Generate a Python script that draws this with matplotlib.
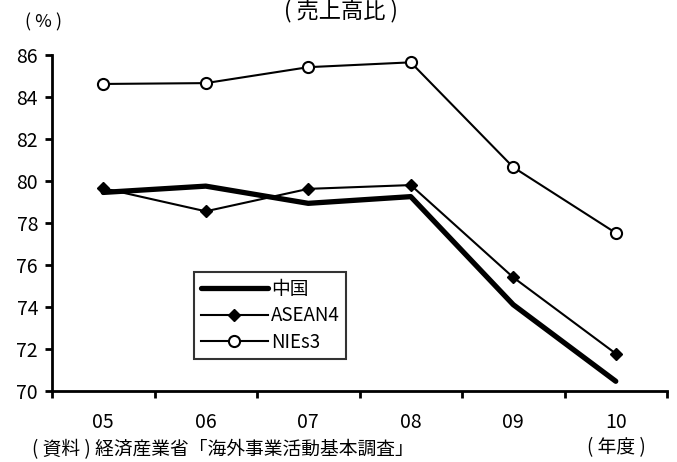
import matplotlib
matplotlib.use("Agg")
import matplotlib.pyplot as plt
from matplotlib.ticker import FixedLocator

plt.rcParams['font.family'] = ['Liberation Sans Narrow', 'Noto Sans CJK JP', 'DejaVu Sans']

# fiscal years and sales ratios (%)
years = ["05", "06", "07", "08", "09", "10"]
china = [79.45, 79.75, 78.93, 79.25, 74.1, 70.45]
asean4 = [79.65, 78.55, 79.62, 79.8, 75.4, 71.77]
nies3 = [84.62, 84.66, 85.42, 85.65, 80.65, 77.52]

fig = plt.figure(figsize=(6.77, 4.62), dpi=100)
ax = fig.add_axes([52 / 677, 1 - 390.7 / 462, 615 / 677, (390.7 - 55) / 462])

x = list(range(len(years)))
ax.plot(x, china, color="black", lw=3.8, solid_capstyle="round",
        solid_joinstyle="round", label="中国")
ax.plot(x, asean4, color="black", lw=1.5, marker="D", markersize=6.5,
        label="ASEAN4")
ax.plot(x, nies3, color="black", lw=1.5, marker="o", markersize=8,
        markerfacecolor="white", markeredgewidth=1.5, label="NIEs3")

ax.set_xlim(-0.5, len(years) - 0.5)
ax.set_ylim(70, 86)
ax.set_yticks(range(70, 87, 2))
ax.set_xticks(x)
ax.set_xticklabels(years)
ax.xaxis.set_minor_locator(FixedLocator([i - 0.5 for i in range(len(years) + 1)]))

for side in ("top", "right"):
    ax.spines[side].set_visible(False)
for side in ("left", "bottom"):
    ax.spines[side].set_linewidth(2)

ax.tick_params(axis="y", labelsize=14, length=5, width=2, pad=5)
ax.tick_params(axis="x", which="major", labelsize=14, length=0, pad=15)
ax.tick_params(axis="x", which="minor", length=5, width=2)

leg = ax.legend(loc="upper left", bbox_to_anchor=(142 / 615, (390.7 - 272) / 335.7),
                frameon=True, fancybox=False, fontsize=13.5, handlelength=3.6,
                handletextpad=0.15, borderpad=0.35, labelspacing=0.3,
                borderaxespad=0)
leg.get_frame().set_edgecolor("black")
leg.get_frame().set_linewidth(1.5)

fig.text(341 / 677, 1 - 11 / 462, "( 売上高比 )", ha="center", va="center", fontsize=16)
fig.text(44 / 677, 1 - 22 / 462, "( % )", ha="center", va="center", fontsize=13)
fig.text(32 / 677, 1 - 450 / 462, "( 資料 ) 経済産業省「海外事業活動基本調査」",
         ha="left", va="center", fontsize=13.5)
fig.text(616 / 677, 1 - 448 / 462, "( 年度 )", ha="center", va="center", fontsize=13.5)

fig.savefig("out.png", dpi=100)
